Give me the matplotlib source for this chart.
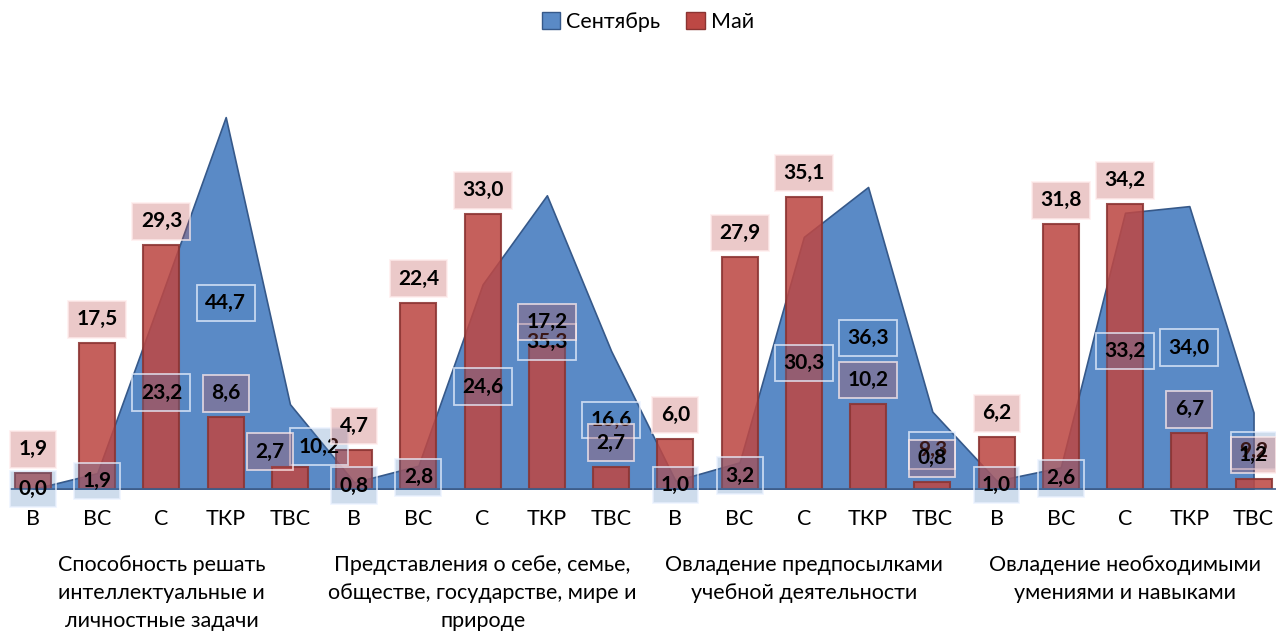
import matplotlib
matplotlib.use('Agg')
import matplotlib.pyplot as plt
from matplotlib.patches import Patch
import matplotlib.transforms as mtransforms
import numpy as np

plt.rcParams['font.family'] = ['Lato', 'DejaVu Sans']

# ---- data ----
categories = ['В', 'ВС', 'С', 'ТКР', 'ТВС'] * 4
groups = [
    'Способность решать\nинтеллектуальные и\nличностные задачи',
    'Представления о себе, семье,\nобществе, государстве, мире и\nприроде',
    'Овладение предпосылками\nучебной деятельности',
    'Овладение необходимыми\nумениями и навыками',
]
september = [0.0, 1.9, 23.2, 44.7, 10.2,
             0.8, 2.8, 24.6, 35.3, 16.6,
             1.0, 3.2, 30.3, 36.3, 9.3,
             1.0, 2.6, 33.2, 34.0, 9.2]
may = [1.9, 17.5, 29.3, 8.6, 2.7,
       4.7, 22.4, 33.0, 17.2, 2.7,
       6.0, 27.9, 35.1, 10.2, 0.8,
       6.2, 31.8, 34.2, 6.7, 1.2]
series_names = ['Сентябрь', 'Май']

# ---- style ----
BLUE = '#5A8AC6'
BLUE_EDGE = '#36598A'
RED = '#BD4844'
RED_EDGE = '#8B3432'
PX = 0.72  # points per pixel at dpi 100

# manual label nudges in pixels (dx right, dy up)
red_nudge = {4: (-20, -9)}
blue_nudge = {4: (29, 0)}

fig = plt.figure(figsize=(12.76, 6.32), dpi=100)
ax = fig.add_axes([10.5 / 1276, 143 / 632, 1265.5 / 1276, 416 / 632])
x = np.arange(len(categories))

ax.fill_between(x, september, 0, facecolor=BLUE, edgecolor=BLUE_EDGE,
                linewidth=1.2, zorder=1)
ax.bar(x, may, width=0.56, color=RED, alpha=0.87, edgecolor=RED_EDGE,
       linewidth=1.5, zorder=2)

ax.set_xlim(-0.35, len(categories) - 1 + 0.35)
ax.set_ylim(0, 50)
ax.set_yticks([])
ax.set_xticks([])
for s in ['top', 'left', 'right']:
    ax.spines[s].set_visible(False)
ax.spines['bottom'].set_color('#3F5F8C')
ax.spines['bottom'].set_linewidth(1.2)
ax.spines['bottom'].set_zorder(3)


def fmt(v):
    return f'{v:.1f}'.replace('.', ',')


LABEL_FS = 15

# September labels (center of area height)
for i, v in enumerate(september):
    dx, dy = blue_nudge.get(i, (0, 0))
    ax.annotate(fmt(v), xy=(i, v / 2), xytext=(dx * PX, dy * PX),
                textcoords='offset points', ha='center', va='center',
                fontsize=LABEL_FS, fontweight='bold', color='black', zorder=5,
                bbox=dict(boxstyle='square,pad=0.4',
                          fc=(0.31, 0.51, 0.74, 0.28),
                          ec=(0.92, 0.95, 1.0, 0.75), lw=1.3))

# May labels (above bars)
for i, v in enumerate(may):
    dx, dy = red_nudge.get(i, (0, 0))
    ax.annotate(fmt(v), xy=(i, v), xytext=(dx * PX, (24 + dy) * PX),
                textcoords='offset points', ha='center', va='center',
                fontsize=LABEL_FS, fontweight='bold', color='black', zorder=6,
                bbox=dict(boxstyle='square,pad=0.4',
                          fc=(0.75, 0.31, 0.30, 0.30),
                          ec=(1.0, 0.93, 0.93, 0.75), lw=1.3))

# category labels
trans = mtransforms.blended_transform_factory(ax.transData, ax.transAxes)
for i, c in enumerate(categories):
    ax.text(i, (489 - 519) / 416, c, transform=trans, ha='center',
            va='center', fontsize=15.5, color='black')

# group labels
for g, name in enumerate(groups):
    ax.text(g * 5 + 2, (489 - 555) / 416, name, transform=trans,
            ha='center', va='top', fontsize=15.5, color='black',
            linespacing=1.5)

handles = [Patch(facecolor=BLUE, edgecolor=BLUE_EDGE, label=series_names[0]),
           Patch(facecolor=RED, edgecolor=RED_EDGE, label=series_names[1])]
fig.legend(handles=handles, loc='center', bbox_to_anchor=(648 / 1276, 1 - 22 / 632),
           ncol=2, frameon=False, fontsize=15.5, handlelength=0.85,
           handleheight=0.85, handletextpad=0.3, columnspacing=1.2)

fig.savefig('out.png', dpi=100)
